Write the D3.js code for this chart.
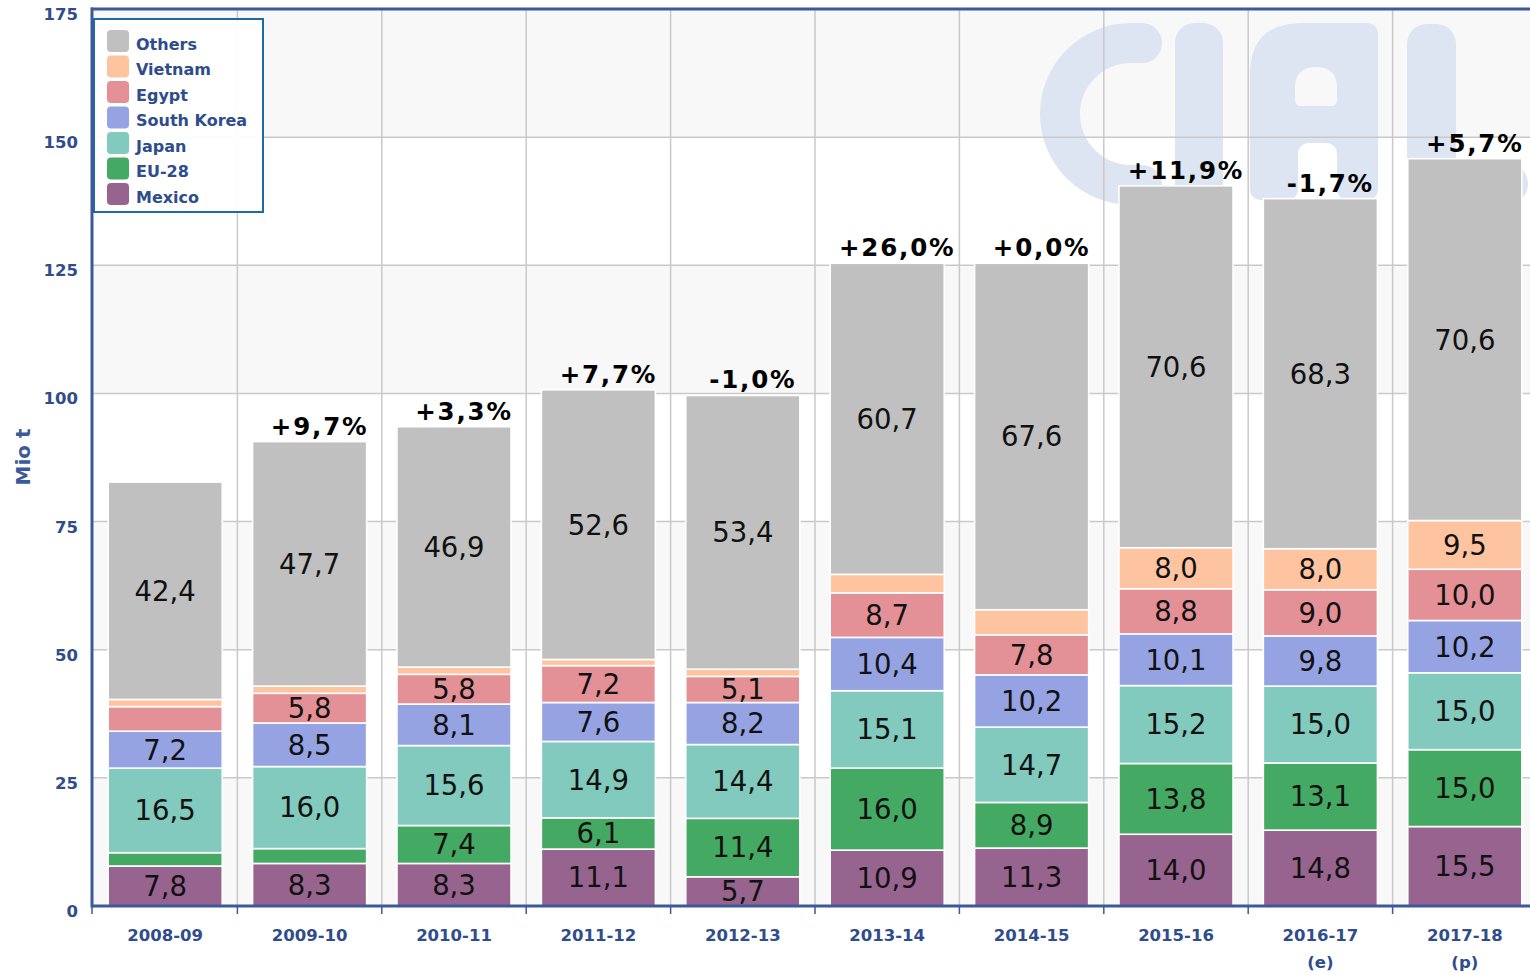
<!DOCTYPE html>
<html>
<head>
<meta charset="utf-8">
<script src="https://cdn.jsdelivr.net/npm/d3@7"></script>
<style>
  html, body { margin: 0; padding: 0; background: #ffffff; }
  svg { display: block; }
</style>
</head>
<body>
<svg id="chart" width="1530" height="975"></svg>
<script>
// ---------------- DATA ----------------
const categories = ["2008-09", "2009-10", "2010-11", "2011-12", "2012-13", "2013-14", "2014-15", "2015-16", "2016-17", "2017-18"];
const categorySub = ["", "", "", "", "", "", "", "", "(e)", "(p)"];
const mexico     = [7.8, 8.3, 8.3, 11.1, 5.7, 10.9, 11.3, 14.0, 14.8, 15.5];
const eu28       = [2.6, 2.9, 7.4, 6.1, 11.4, 16.0, 8.9, 13.8, 13.1, 15.0];
const japan      = [16.5, 16.0, 15.6, 14.9, 14.4, 15.1, 14.7, 15.2, 15.0, 15.0];
const southKorea = [7.2, 8.5, 8.1, 7.6, 8.2, 10.4, 10.2, 10.1, 9.8, 10.2];
const egypt      = [4.8, 5.8, 5.8, 7.2, 5.1, 8.7, 7.8, 8.8, 9.0, 10.0];
const vietnam    = [1.4, 1.4, 1.4, 1.2, 1.4, 3.6, 4.9, 8.0, 8.0, 9.5];
const others     = [42.4, 47.7, 46.9, 52.6, 53.4, 60.7, 67.6, 70.6, 68.3, 70.6];
const growthLabels = ["", "+9,7%", "+3,3%", "+7,7%", "-1,0%", "+26,0%", "+0,0%", "+11,9%", "-1,7%", "+5,7%"];
const seriesNames = ["Mexico", "EU-28", "Japan", "South Korea", "Egypt", "Vietnam", "Others"];
const seriesValues = [mexico, eu28, japan, southKorea, egypt, vietnam, others];
const yTicks = [0, 25, 50, 75, 100, 125, 150, 175];
const yTitle = "Mio t";

// ---------------- STYLE ----------------
const colors = {
  "Mexico": "#97648f", "EU-28": "#44a963", "Japan": "#81cabd", "South Korea": "#95a3e3",
  "Egypt": "#e39096", "Vietnam": "#fec4a0", "Others": "#c0c0c0"
};
const axisColor = "#3c5a9a";
const textColor = "#2f4c8c";
const gridColor = "#c9c9c9";
const font = "'DejaVu Sans', Verdana, sans-serif";

const svg = d3.select("#chart");
const pLeft = 92, pRight = 1537, pTop = 9, pBottom = 906;

const x = d3.scaleBand().domain(categories).range([pLeft + 1, pRight]).paddingInner(0.21).paddingOuter(0.105);
const y = d3.scaleLinear().domain([0, 175]).range([pBottom, pTop]);

// rows of data
const rows = categories.map((c, i) => {
  const r = { category: c };
  seriesNames.forEach((s, k) => r[s] = seriesValues[k][i]);
  return r;
});
const stacked = d3.stack().keys(seriesNames)(rows);

// alternating background bands
const bands = d3.range(0, 175, 25);
svg.append("g").selectAll("rect").data(bands).join("rect")
  .attr("x", pLeft).attr("width", pRight - pLeft)
  .attr("y", d => y(d + 25)).attr("height", d => y(d) - y(d + 25))
  .attr("fill", (d, i) => i % 2 === 0 ? "#f8f8f8" : "#ffffff");

// watermark "CIAL"
const wmColor = "#dde4f2";
const wm = svg.append("g").attr("fill", wmColor);
wm.append("path")
  .attr("d", "M1142,185 L1131,185 A71,71 0 0 1 1131,43 L1142,43")
  .attr("fill", "none").attr("stroke", wmColor).attr("stroke-width", 40).attr("stroke-linecap", "round");
wm.append("rect").attr("x", 1175).attr("y", 23).attr("width", 48).attr("height", 182).attr("rx", 20);
wm.append("path").attr("fill-rule", "evenodd")
  .attr("d", "M1250,188 L1250,75 Q1250,23 1302,23 L1366,23 Q1378,23 1378,35 L1378,188 Q1378,200 1366,200 L1349,200 Q1337,200 1337,188 L1337,155 Q1337,143 1325,143 L1310,143 Q1298,143 1298,155 L1298,188 Q1298,200 1286,200 L1262,200 Q1250,200 1250,188 Z " +
             "M1295,100 L1295,88 Q1295,67 1316,67 Q1337,67 1337,88 L1337,100 Q1337,106 1331,106 L1301,106 Q1295,106 1295,100 Z");
wm.append("rect").attr("x", 1407).attr("y", 24).attr("width", 49).attr("height", 180).attr("rx", 20);
wm.append("rect").attr("x", 1407).attr("y", 164).attr("width", 121).attr("height", 40).attr("rx", 20);

// grid lines
svg.append("g").selectAll("line").data(yTicks.filter(t => t > 0 && t < 175)).join("line")
  .attr("x1", pLeft).attr("x2", pRight).attr("y1", d => y(d)).attr("y2", d => y(d))
  .attr("stroke", gridColor).attr("stroke-width", 1.5);
const step = x.step();
const boundaries = categories.slice(1).map(c => x(c) - step * x.paddingInner() / 2);
svg.append("g").selectAll("line").data(boundaries).join("line")
  .attr("x1", d => d).attr("x2", d => d).attr("y1", pTop).attr("y2", pBottom)
  .attr("stroke", gridColor).attr("stroke-width", 1.5);

// bars
const fmt = v => d3.format(".1f")(v).replace(".", ",");
const layers = svg.append("g").selectAll("g").data(stacked).join("g")
  .attr("fill", d => colors[d.key]);
layers.selectAll("rect").data(d => d).join("rect")
  .attr("x", d => x(d.data.category))
  .attr("width", x.bandwidth())
  .attr("y", d => y(d[1]))
  .attr("height", d => y(d[0]) - y(d[1]))
  .attr("stroke", "#ffffff").attr("stroke-width", 1.6);

// segment labels
const labelG = svg.append("g");
stacked.forEach(layer => {
  layer.forEach(d => {
    const v = d[1] - d[0];
    if (v >= 5) {
      labelG.append("text")
        .attr("x", x(d.data.category) + x.bandwidth() / 2)
        .attr("y", (y(d[0]) + y(d[1])) / 2)
        .attr("dy", "0.36em")
        .attr("text-anchor", "middle")
        .attr("font-family", font).attr("font-size", 27.5)
        .attr("fill", "#111")
        .text(fmt(v));
    }
  });
});

// growth labels
const totals = rows.map(r => d3.sum(seriesNames, s => r[s]));
svg.append("g").selectAll("text").data(categories).join("text")
  .attr("x", c => x(c) + x.bandwidth() / 2 + 10)
  .attr("y", (c, i) => y(totals[i]) - 7)
  .attr("text-anchor", "middle")
  .attr("font-family", font).attr("font-size", 24.5).attr("font-weight", "bold")
  .attr("letter-spacing", 1.8)
  .attr("fill", "#000")
  .text((c, i) => growthLabels[i]);

// axes frame
svg.append("line").attr("x1", pLeft - 1).attr("x2", pRight).attr("y1", pTop).attr("y2", pTop)
  .attr("stroke", axisColor).attr("stroke-width", 3);
svg.append("line").attr("x1", pLeft).attr("x2", pLeft).attr("y1", pTop - 1.5).attr("y2", pBottom + 1.5)
  .attr("stroke", axisColor).attr("stroke-width", 3);
svg.append("line").attr("x1", pLeft - 1).attr("x2", pRight).attr("y1", pBottom).attr("y2", pBottom)
  .attr("stroke", axisColor).attr("stroke-width", 3);

// y axis labels
svg.append("g").selectAll("text").data(yTicks).join("text")
  .attr("x", 78).attr("y", d => y(d) + 5).attr("dy", "0.36em")
  .attr("text-anchor", "end")
  .attr("font-family", font).attr("font-size", 16.5).attr("font-weight", "bold")
  .attr("fill", textColor)
  .text(d => d);

// x ticks
const tickXs = [pLeft].concat(boundaries);
svg.append("g").selectAll("line").data(tickXs).join("line")
  .attr("x1", d => d).attr("x2", d => d).attr("y1", pBottom).attr("y2", pBottom + 8)
  .attr("stroke", axisColor).attr("stroke-width", 1.5);

// x labels
const xl = svg.append("g").selectAll("text").data(categories).join("text")
  .attr("x", c => x(c) + x.bandwidth() / 2)
  .attr("y", 941)
  .attr("text-anchor", "middle")
  .attr("font-family", font).attr("font-size", 16.5).attr("font-weight", "bold")
  .attr("fill", textColor);
xl.append("tspan").text(c => c);
xl.append("tspan").attr("x", c => x(c) + x.bandwidth() / 2).attr("dy", 27)
  .text((c, i) => categorySub[i]);

// y title
svg.append("text")
  .attr("transform", "translate(30,457) rotate(-90)")
  .attr("text-anchor", "middle")
  .attr("font-family", font).attr("font-size", 20).attr("font-weight", "bold")
  .attr("fill", axisColor)
  .text(yTitle);

// legend
const legendOrder = seriesNames.slice().reverse();
const lg = svg.append("g");
lg.append("rect").attr("x", 94).attr("y", 19).attr("width", 169).attr("height", 193)
  .attr("fill", "#ffffff").attr("fill-opacity", 0.95)
  .attr("stroke", "#2169a6").attr("stroke-width", 2);
const items = lg.selectAll("g.item").data(legendOrder).join("g").attr("class", "item")
  .attr("transform", (d, i) => `translate(0,${41 + i * 25.5})`);
items.append("rect").attr("x", 107).attr("y", -11).attr("width", 22).attr("height", 22).attr("rx", 4)
  .attr("fill", d => colors[d]);
items.append("text").attr("x", 136).attr("y", 3).attr("dy", "0.36em")
  .attr("font-family", font).attr("font-size", 16).attr("font-weight", "bold")
  .attr("fill", textColor)
  .text(d => d);
</script>
</body>
</html>
